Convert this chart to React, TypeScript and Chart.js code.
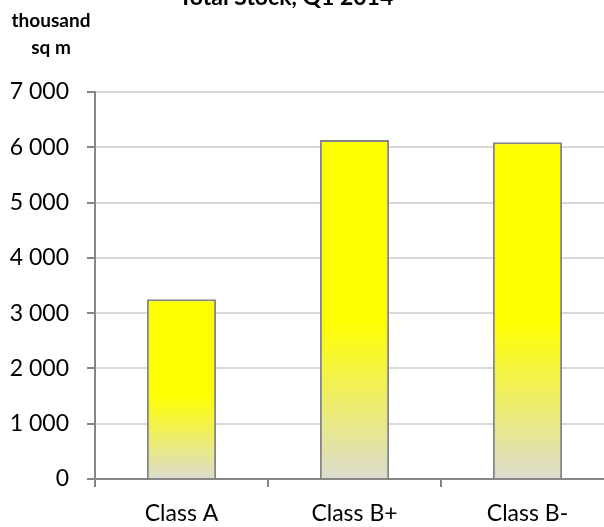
import React, { useEffect, useRef } from "react";
import { Chart, registerables } from "chart.js";

Chart.register(...registerables);

// Total office stock by class, thousand sq m
const categories = ["Class A", "Class B+", "Class B-"];
const stockValues = [3250, 6130, 6090];
const yTickValues = [0, 1000, 2000, 3000, 4000, 5000, 6000, 7000];
const chartTitle = "Total Stock, Q1 2014";
const unitLines = ["thousand", "sq m"];

const FONT = "Lato, 'Open Sans', sans-serif";

// thousands separated by a space, e.g. 7 000
const formatThousands = (v: number) =>
  String(Math.round(v)).replace(/\B(?=(\d{3})+(?!\d))/g, " ");

const headerPlugin = {
  id: "headerText",
  afterDraw(chart: Chart) {
    const ctx = chart.ctx;
    ctx.save();
    ctx.fillStyle = "#000000";
    ctx.textAlign = "center";
    ctx.textBaseline = "alphabetic";
    ctx.font = `bold 23px ${FONT}`;
    ctx.fillText(chartTitle, 286, 5);
    ctx.font = `bold 19px ${FONT}`;
    ctx.fillText(unitLines[0], 51, 27);
    ctx.fillText(unitLines[1], 51, 54);
    ctx.restore();
  },
};

function barGradient(context: any) {
  const chart = context.chart;
  const yScale = chart.scales?.y;
  if (!yScale || typeof context.raw !== "number") return "#ffff00";
  const top = yScale.getPixelForValue(context.raw);
  const bottom = yScale.getPixelForValue(0);
  if (!Number.isFinite(top) || !Number.isFinite(bottom) || top === bottom) return "#ffff00";
  const g = chart.ctx.createLinearGradient(0, bottom, 0, top);
  g.addColorStop(0, "rgb(220,220,207)");
  g.addColorStop(0.47, "#ffff00");
  g.addColorStop(1, "#ffff00");
  return g;
}

export default function App() {
  const canvasRef = useRef<HTMLCanvasElement | null>(null);

  useEffect(() => {
    const canvas = canvasRef.current;
    if (!canvas) return;
    const chart = new Chart(canvas, {
      type: "bar",
      data: {
        labels: categories,
        datasets: [
          {
            label: "Total stock",
            data: stockValues,
            backgroundColor: barGradient,
            borderColor: "#868686",
            borderWidth: 2,
            borderSkipped: "start",
            categoryPercentage: 1,
            barPercentage: 0.4,
          },
        ],
      },
      options: {
        responsive: false,
        animation: false,
        devicePixelRatio: 1,
        layout: { padding: { left: 0, right: 26, top: 92, bottom: 0 } },
        plugins: {
          legend: { display: false },
          title: { display: false },
          tooltip: { enabled: false },
        },
        scales: {
          x: {
            offset: true,
            grid: {
              offset: true,
              drawOnChartArea: false,
              drawTicks: true,
              tickLength: 8,
              tickColor: "#868686",
              lineWidth: 2,
            },
            border: { display: true, color: "#868686", width: 2 },
            ticks: {
              color: "#000000",
              font: { family: FONT, size: 23 },
              padding: 13,
              maxRotation: 0,
            },
            afterFit(scale: any) {
              scale.height = 48;
            },
          },
          y: {
            min: 0,
            max: 7000,
            afterBuildTicks(scale: any) {
              scale.ticks = yTickValues.map((v) => ({ value: v }));
            },
            grid: {
              color: "#d9d9d9",
              lineWidth: 2,
              tickLength: 8,
              tickColor: "#868686",
            },
            border: { display: true, color: "#868686", width: 2 },
            ticks: {
              color: "#000000",
              font: { family: FONT, size: 23 },
              padding: 18,
              callback: (v: any) => formatThousands(Number(v)),
            },
            afterFit(scale: any) {
              scale.width = 95;
            },
          },
        },
      },
      plugins: [headerPlugin],
    });
    return () => chart.destroy();
  }, []);

  return (
    <div
      style={{
        position: "fixed",
        left: 0,
        top: 0,
        width: 604,
        height: 527,
        overflow: "hidden",
        background: "#ffffff",
      }}
    >
      <canvas ref={canvasRef} width={640} height={527} style={{ display: "block" }} />
    </div>
  );
}
